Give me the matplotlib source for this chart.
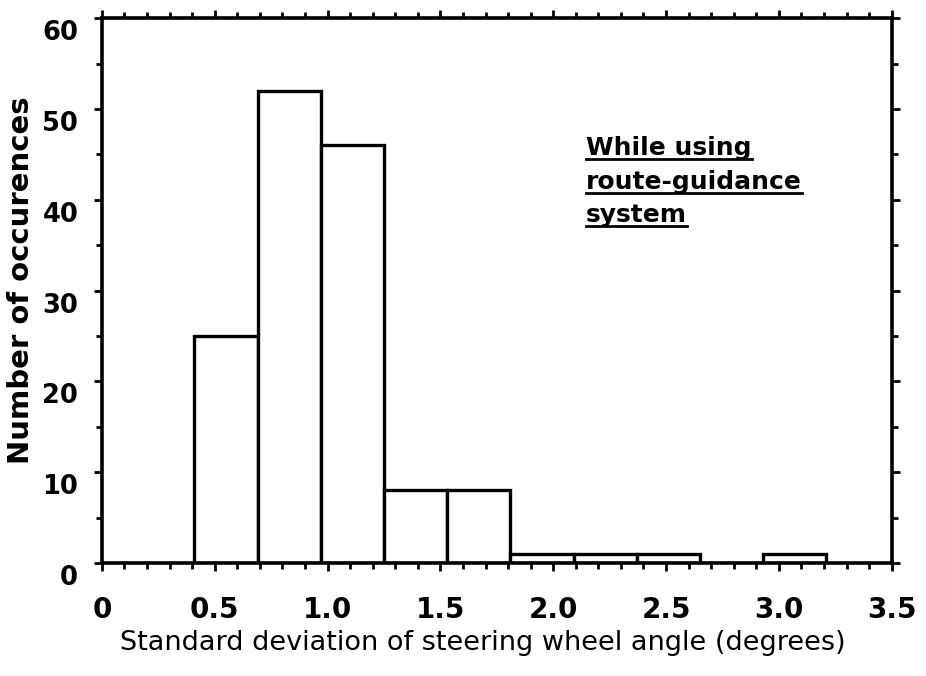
import numpy as np
import matplotlib
matplotlib.use("Agg")
import matplotlib.pyplot as plt
import matplotlib.transforms as mtransforms
from matplotlib.ticker import MultipleLocator
from matplotlib.lines import Line2D

plt.rcParams['font.family'] = ['DejaVu Sans']

# histogram of steering wheel angle SD
bin_edges = [0.41, 0.69, 0.97, 1.25, 1.53, 1.81, 2.09, 2.37, 2.65, 2.93, 3.21]
counts = [25, 52, 46, 8, 8, 1, 1, 1, 0, 1]
x_ticks = [0, 0.5, 1.0, 1.5, 2.0, 2.5, 3.0, 3.5]
x_tick_labels = ['0', '0.5', '1.0', '1.5', '2.0', '2.5', '3.0', '3.5']
y_ticks = [0, 10, 20, 30, 40, 50, 60]
note_lines = ['While using', 'route-guidance', 'system']

fig = plt.figure(figsize=(9.26, 6.76), dpi=100)
ax = fig.add_axes([0.110, 0.167, 0.853, 0.806])

edges = np.array(bin_edges)
ax.bar(edges[:-1], counts, width=np.diff(edges), align='edge',
       facecolor='white', edgecolor='black', linewidth=2.4, zorder=2)

ax.set_xlim(0, 3.5)
ax.set_ylim(0, 60)

for s in ax.spines.values():
    s.set_linewidth(2.6)
    s.set_zorder(3)

ax.set_xticks(x_ticks)
ax.set_xticklabels(x_tick_labels)
ax.set_yticks(y_ticks)
ax.xaxis.set_minor_locator(MultipleLocator(0.1))
ax.yaxis.set_minor_locator(MultipleLocator(5))
ax.tick_params(which='both', direction='out', top=True, right=True,
               width=2, color='black')
ax.tick_params(which='major', length=6)
ax.tick_params(which='minor', length=4)
ax.tick_params(axis='x', which='major', pad=18, labelsize=20)
ax.tick_params(axis='y', which='major', pad=11, labelsize=18.5)
for lbl in ax.get_xticklabels() + ax.get_yticklabels():
    lbl.set_fontweight('bold')

# y tick labels sit a little below their ticks in the original
shift = mtransforms.ScaledTranslation(0, -0.12, fig.dpi_scale_trans)
for lbl in ax.get_yticklabels():
    lbl.set_transform(lbl.get_transform() + shift)

ax.set_xlabel('Standard deviation of steering wheel angle (degrees)',
              fontsize=19.5, labelpad=4)
ax.xaxis.label.set_x(0.482)
ax.set_ylabel('Number of occurences', fontsize=21, fontweight='bold')
ax.yaxis.set_label_coords(-0.085, 0.52)

# underlined note
texts = []
for i, line in enumerate(note_lines):
    t = ax.text(0.613, 0.749 - i * 0.0615, line, transform=ax.transAxes,
                fontsize=18, fontweight='bold', ha='left', va='baseline')
    texts.append(t)

fig.canvas.draw()
renderer = fig.canvas.get_renderer()
inv = fig.transFigure.inverted()
for t in texts:
    bb = t.get_window_extent(renderer)
    base_y = ax.transAxes.transform(t.get_position())[1] - 4
    (x0, y0), (x1, _) = inv.transform([[bb.x0, base_y], [bb.x1, base_y]])
    fig.add_artist(Line2D([x0, x1], [y0, y0],
                          transform=fig.transFigure, color='black', lw=2))

fig.savefig('out.png', dpi=100)
